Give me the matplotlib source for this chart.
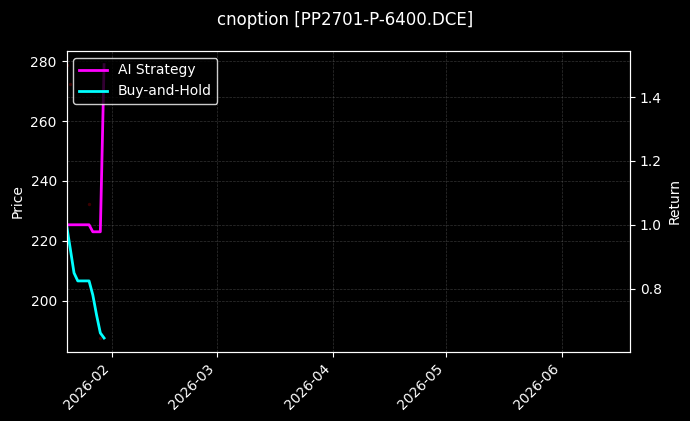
import numpy as np
import pandas as pd
import matplotlib
matplotlib.use("Agg")
import matplotlib.pyplot as plt
import matplotlib.dates as mdates

plt.style.use("dark_background")

# trading days shown in the chart
dates = pd.to_datetime(["2026-01-20", "2026-01-21", "2026-01-22", "2026-01-23",
                        "2026-01-26", "2026-01-27", "2026-01-28", "2026-01-29",
                        "2026-01-30"])
# only a few faint price marks are visible in the chart
price = [278.9, 272.3, np.nan, np.nan, 232.2, np.nan, np.nan, 187.5, np.nan]
ai_strategy = [1.0, 1.0, 1.0, 1.0, 1.0, 0.978, 0.978, 0.978, 1.502]
buy_hold = [1.0, 0.925, 0.849, 0.824, 0.824, 0.780, 0.717, 0.661, 0.645]

fig = plt.figure(figsize=(6.9, 4.21), dpi=100)
ax1 = fig.add_axes([0.0964, 0.1646, 0.8166, 0.7144])
ax1.scatter(dates, price, s=2, color="#3a0000", zorder=1)
ax1.set_ylabel("Price")
ax1.grid(True, linestyle="--", linewidth=0.5, color="gray", alpha=0.4)

ax2 = ax1.twinx()
ax2.plot(dates, ai_strategy, color="magenta", linewidth=2, label="AI Strategy")
ax2.plot(dates, buy_hold, color="cyan", linewidth=2, label="Buy-and-Hold")
ax2.set_ylabel("Return")
ax2.grid(True, linestyle="--", linewidth=0.5, color="gray", alpha=0.4)
ax2.legend(loc="upper left", facecolor="black", edgecolor="white")

ax1.set_xlim(pd.Timestamp("2026-01-20"), pd.Timestamp("2026-06-19"))
ax1.xaxis.set_major_locator(mdates.MonthLocator())
ax1.xaxis.set_major_formatter(mdates.DateFormatter("%Y-%m"))
for lab in ax1.get_xticklabels():
    lab.set_rotation(45)
    lab.set_ha("right")

fig.suptitle("cnoption [PP2701-P-6400.DCE]", fontsize=12, y=0.975)
fig.savefig("out.png", dpi=100, facecolor="black")
